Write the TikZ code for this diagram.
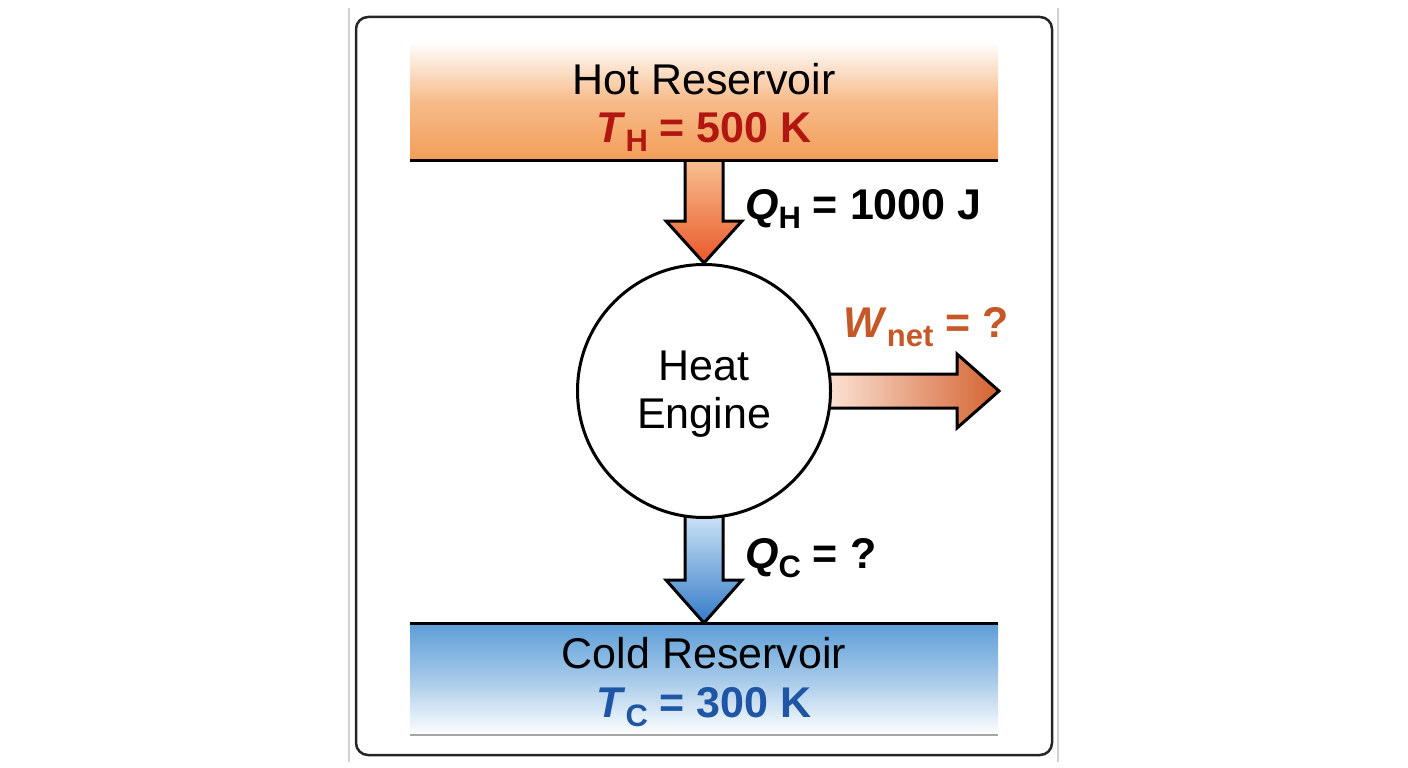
\documentclass[tikz,border=0pt]{standalone}
\usepackage{fontspec}
\setmainfont{Liberation Sans}
\usetikzlibrary{calc, backgrounds}
\definecolor{hotorange}{RGB}{243,158,88}
\definecolor{hotred}{RGB}{178,22,16}
\definecolor{qhtop}{RGB}{249,196,150}
\definecolor{qhbot}{RGB}{233,88,42}
\definecolor{wleft}{RGB}{251,228,214}
\definecolor{wright}{RGB}{212,98,48}
\definecolor{wtext}{RGB}{198,88,40}
\definecolor{qctop}{RGB}{205,228,246}
\definecolor{qcbot}{RGB}{52,122,200}
\definecolor{coldblue}{RGB}{92,157,215}
\definecolor{coldtext}{RGB}{30,86,165}
\newcommand{\qtysym}[2]{\textbf{\textit{#1}}\raisebox{-0.22em}{\fontsize{31}{31}\selectfont\textbf{#2}}}

\begin{document}
\begin{tikzpicture}[x=1pt, y=-1pt,
	every node/.style={inner sep=0, font=\fontsize{43}{48}\selectfont},
	boldtext/.style={font=\fontsize{43}{48}\selectfont\bfseries},
	reservoir/.style={minimum width=588, inner sep=0, outer sep=0},
	heatarrow/.style={draw=black, line width=3, line join=miter},
	qtylabel/.style={boldtext, anchor=base west}]
				\useasboundingbox (0,0) rectangle (1408,768);

				\draw[black!18, line width=1.5] (349,8) -- (349,762);
				\draw[black!18, line width=1.5] (1058,8) -- (1058,762);
				\draw[line width=2.5, black!85, rounded corners=12] (356,17) rectangle (1052,755);

				\node[reservoir, minimum height=118, top color=white, bottom color=hotorange, middle color=hotorange!70] (hot) at (704,101) {};
				\draw[line width=3] (hot.south west) -- (hot.south east);
				\node[anchor=base] (hotname) at (704,95) {Hot Reservoir};
				\node[boldtext, anchor=base, text=hotred] (hottemp) at (704,142) {\qtysym{T}{H} = 500 K};

				\node[reservoir, minimum height=112, top color=coldblue, bottom color=white, middle color=coldblue!55] (cold) at (704,679) {};
				\draw[line width=3] (cold.north west) -- (cold.north east);
				\draw[line width=1.2, black!35] (cold.south west) -- (cold.south east);
				\node[anchor=base] (coldname) at (704,668) {Cold Reservoir};
				\node[boldtext, anchor=base, text=coldtext] (coldtemp) at (704,717) {\qtysym{T}{C} = 300 K};

				\node[circle, draw, line width=3, fill=white, minimum size=253, align=center] (engine) at (704,391) {};
				\node[align=center] (enginename) at (704,394) {Heat\\Engine};

				\coordinate (wtip) at (999,391);

				\begin{scope}[on background layer]
				\draw[heatarrow, top color=qhtop, bottom color=qhbot]
				($(hot.south)+(-19,-5)$) -- ($(engine.north)+(-19,-42)$) -- ($(engine.north)+(-38,-42)$)
				-- (engine.north) -- ($(engine.north)+(38,-42)$) -- ($(engine.north)+(19,-42)$)
				-- ($(hot.south)+(19,-5)$) -- cycle;

				\draw[heatarrow, top color=qctop, bottom color=qcbot]
				($(engine.south)+(-19,-5)$) -- ($(cold.north)+(-19,-43)$) -- ($(cold.north)+(-38,-43)$)
				-- (cold.north) -- ($(cold.north)+(38,-43)$) -- ($(cold.north)+(19,-43)$)
				-- ($(engine.south)+(19,-5)$) -- cycle;

				\draw[heatarrow, left color=wleft, right color=wright]
				($(engine.east)+(-6,-17)$) -- ($(wtip)+(-42,-17)$) -- ($(wtip)+(-42,-37)$)
				-- (wtip) -- ($(wtip)+(-42,37)$) -- ($(wtip)+(-42,17)$)
				-- ($(engine.east)+(-6,17)$) -- cycle;
				\end{scope}

				\node[qtylabel] (qhlabel) at (745,219) {\qtysym{Q}{H} = 1000 J};
				\node[qtylabel, text=wtext] (wlabel) at (843,337) {\qtysym{W}{net} = ?};
				\node[qtylabel] (qclabel) at (745,568) {\qtysym{Q}{C} = ?};
\end{tikzpicture}
\end{document}
